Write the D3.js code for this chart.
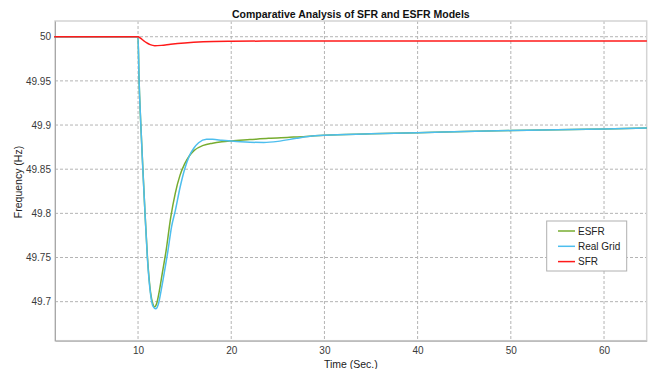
<!DOCTYPE html>
<html><head><meta charset="utf-8">
<script src="https://cdn.jsdelivr.net/npm/d3@7"></script>
<style>
html,body{margin:0;padding:0;background:#fff;}
svg{display:block;font-family:"Liberation Sans",Arial,sans-serif;}
</style></head>
<body>
<svg id="chart" width="655" height="369"></svg>
<script>
// ---- data ----
const chartTitle = "Comparative Analysis of SFR and ESFR Models";
const xLabel = "Time (Sec.)";
const yLabel = "Frequency (Hz)";
const xTicks = [10, 20, 30, 40, 50, 60];
const yTicks = [49.7, 49.75, 49.8, 49.85, 49.9, 49.95, 50];
const yTickLabels = ["49.7", "49.75", "49.8", "49.85", "49.9", "49.95", "50"];
const seriesNames = ["ESFR", "Real Grid", "SFR"];

const esfrTime = [1, 10, 10.1, 10.3, 10.5, 10.75, 11.0, 11.35, 11.6, 11.75, 12.0, 12.3, 12.6, 13.0, 13.5, 14.0, 14.5, 15.0, 15.5, 16, 17, 18, 19, 20, 22, 24, 26, 28, 30, 35, 40, 45, 50, 55, 60, 64.6];
const esfrFreq = [50, 50, 49.955, 49.90, 49.855, 49.80, 49.752, 49.71, 49.697, 49.694, 49.698, 49.713, 49.732, 49.757, 49.795, 49.823, 49.843, 49.856, 49.865, 49.871, 49.877, 49.8795, 49.881, 49.882, 49.8835, 49.885, 49.886, 49.887, 49.8885, 49.890, 49.8914, 49.8926, 49.8937, 49.8947, 49.8956, 49.8967];

const gridTime = [1, 10, 10.1, 10.3, 10.5, 10.75, 11.0, 11.35, 11.6, 11.9, 12.2, 12.5, 12.9, 13.2, 13.6, 14.0, 14.5, 15.0, 15.5, 16, 16.5, 17.35, 18, 19, 20, 21, 22, 23.5, 25, 27, 29, 30, 35, 40, 45, 50, 55, 60, 64.6];
const gridFreq = [50, 50, 49.955, 49.90, 49.853, 49.80, 49.75, 49.708, 49.695, 49.692, 49.698, 49.714, 49.738, 49.757, 49.785, 49.803, 49.829, 49.85, 49.865, 49.874, 49.880, 49.884, 49.8838, 49.8828, 49.8818, 49.881, 49.8805, 49.8803, 49.8815, 49.885, 49.8878, 49.8885, 49.890, 49.8914, 49.8926, 49.8937, 49.8947, 49.8956, 49.8967];

const sfrTime = [1, 10, 10.3, 10.6, 10.9, 11.3, 11.8, 12.5, 13.5, 15, 17, 20, 25, 30, 64.6];
const sfrFreq = [50, 50, 49.998, 49.9955, 49.9932, 49.991, 49.9898, 49.9902, 49.9915, 49.993, 49.9942, 49.9948, 49.9951, 49.9951, 49.9951];

const colors = ["#77ac30", "#4dbeee", "#ff1a1a"];

// ---- layout ----
const svg = d3.select("#chart");
const L = 55, R = 646.7, T = 21, B = 340.7;
const x = d3.scaleLinear().domain([1.09, 64.58]).range([L, R]);
const y = d3.scaleLinear().domain([49.6558, 50.0178]).range([B, T]);

// grid
const g = svg.append("g");
g.selectAll("line.vx").data(xTicks).enter().append("line")
  .attr("x1", d => x(d)).attr("x2", d => x(d)).attr("y1", T).attr("y2", B)
  .attr("stroke", "#b4b4b4").attr("stroke-width", 1).attr("stroke-dasharray", "3,2");
g.selectAll("line.hy").data(yTicks).enter().append("line")
  .attr("x1", L).attr("x2", R).attr("y1", d => y(d)).attr("y2", d => y(d))
  .attr("stroke", "#b4b4b4").attr("stroke-width", 1).attr("stroke-dasharray", "3,2");

// frame
svg.append("rect").attr("x", L).attr("y", T).attr("width", R - L).attr("height", B - T)
  .attr("fill", "none").attr("stroke", "#d4d4d4").attr("stroke-width", 1.5);

// axes
const xAxis = d3.axisBottom(x).tickValues(xTicks).tickSize(0).tickPadding(6);
const ax = svg.append("g").attr("transform", `translate(0,${B})`).call(xAxis);
ax.select(".domain").attr("stroke", "#a8a8a8");
ax.selectAll("text").attr("font-size", 10).attr("fill", "#3a3a3a").attr("font-family", "Liberation Sans, Arial, sans-serif");

const yAxis = d3.axisLeft(y).tickValues(yTicks).tickFormat((d, i) => yTickLabels[i]).tickSize(0).tickPadding(4);
const ay = svg.append("g").attr("transform", `translate(${L},0)`).call(yAxis);
ay.select(".domain").attr("stroke", "#a8a8a8");
ay.selectAll("text").attr("font-size", 10).attr("fill", "#3a3a3a").attr("font-family", "Liberation Sans, Arial, sans-serif");

// lines
const series = [
  {t: esfrTime, f: esfrFreq},
  {t: gridTime, f: gridFreq},
  {t: sfrTime, f: sfrFreq}
];
const line = d3.line().x(d => x(d[0])).y(d => y(d[1])).curve(d3.curveMonotoneX);
series.forEach((s, i) => {
  const pts = s.t.map((t, j) => [t, s.f[j]]);
  svg.append("path").datum(pts).attr("d", line)
    .attr("fill", "none").attr("stroke", colors[i]).attr("stroke-width", 1.5);
});

// title and labels
svg.append("text").attr("x", (L + R) / 2).attr("y", 18).attr("text-anchor", "middle")
  .attr("font-size", 10.5).attr("font-weight", "bold").attr("fill", "#111").text(chartTitle);
svg.append("text").attr("x", (L + R) / 2).attr("y", 367.5).attr("text-anchor", "middle")
  .attr("font-size", 10.5).attr("fill", "#222").text(xLabel);
svg.append("text").attr("transform", `translate(22,182) rotate(-90)`).attr("text-anchor", "middle")
  .attr("font-size", 10.5).attr("fill", "#222").text(yLabel);

// legend
const lg = svg.append("g");
lg.append("rect").attr("x", 546.7).attr("y", 221).attr("width", 80).attr("height", 50)
  .attr("fill", "#fff").attr("stroke", "#b0b0b0").attr("stroke-width", 1);
seriesNames.forEach((n, i) => {
  const yy = 231 + i * 15.3;
  lg.append("line").attr("x1", 558).attr("x2", 575).attr("y1", yy).attr("y2", yy)
    .attr("stroke", colors[i]).attr("stroke-width", 1.5);
  lg.append("text").attr("x", 578).attr("y", yy + 3.5).attr("font-size", 10).attr("fill", "#222").text(n);
});
</script>
</body></html>
